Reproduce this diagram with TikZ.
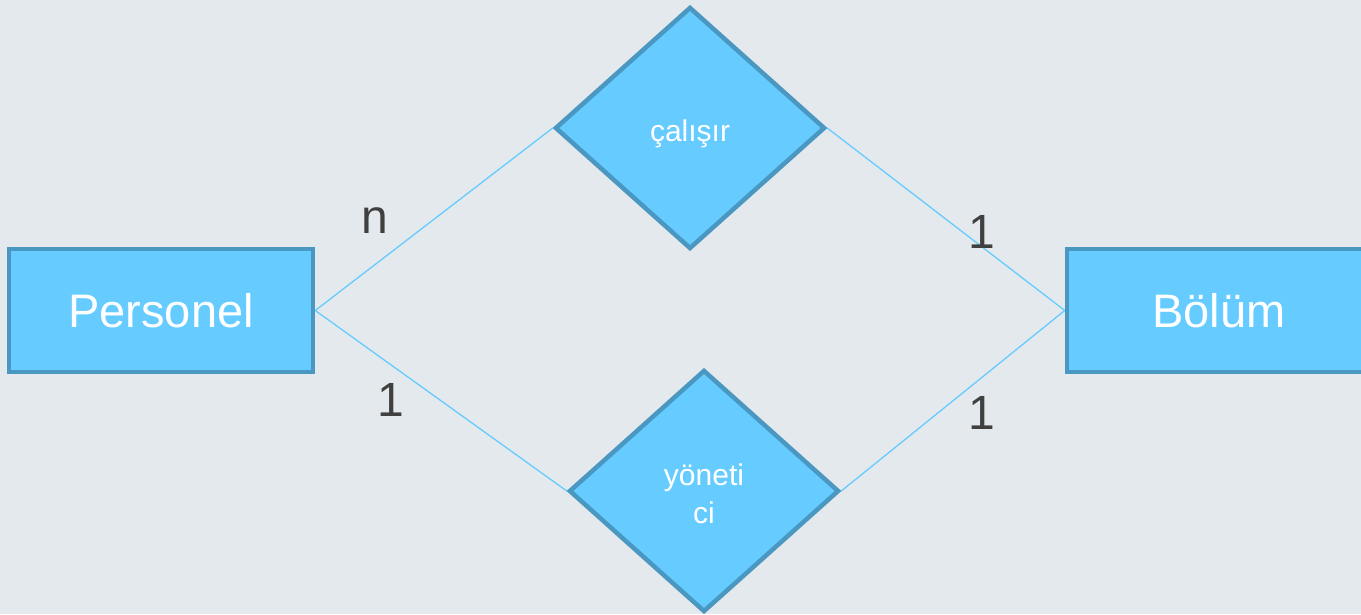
\documentclass[tikz,border=0pt]{standalone}
\usepackage{fontspec}
\setmainfont{Liberation Sans}
\usetikzlibrary{shapes.geometric}
\definecolor{bg}{HTML}{E3E9EC}
\definecolor{fillb}{HTML}{66CCFF}
\definecolor{edgeb}{HTML}{4A98C2}
\definecolor{linkb}{HTML}{66CCFF}
\definecolor{lbl}{HTML}{404040}
\tikzset{
  entity/.style={draw=edgeb, fill=fillb, line width=4.5pt, minimum width=304pt, minimum height=123pt, inner sep=0pt, text=white, font=\fontsize{47}{56}\selectfont},
  relation/.style={diamond, draw=edgeb, fill=fillb, line width=4.5pt, minimum width=270pt, minimum height=242pt, inner sep=0pt},
  reltext/.style={text=white, align=center, inner sep=0pt, font=\fontsize{30}{38}\selectfont},
  link/.style={draw=linkb, line width=1.3pt},
  card/.style={text=lbl, font=\fontsize{48}{56}\selectfont, inner sep=0pt}
}
\begin{document}
\begin{tikzpicture}[x=1pt,y=1pt]
\fill[bg] (0,0) rectangle (1361,614);
\useasboundingbox (0,0) rectangle (1361,614);
\clip (0,0) rectangle (1361,614);
\node[entity] (p) at (161,303.5) {Personel};
\node[entity] (b) at (1219,303.5) {Bölüm};
\node[relation] (c) at (690,486) {};
\node[relation] (y) at (704,123) {};
\node[reltext] (ct) at ([yshift=-6pt]c.center) {çalışır};
\node[reltext] (yt) at ([yshift=-3pt]y.center) {yöneti\\ci};
\draw[link] (p.east) -- (c.west);
\draw[link] (p.east) -- (y.west);
\draw[link] (c.east) -- (b.west);
\draw[link] (y.east) -- (b.west);
\node[card] (l1) at (375,393) {n};
\node[card] (l2) at (391,214) {1};
\node[card] (l3) at (982,382) {1};
\node[card] (l4) at (982,201) {1};
\end{tikzpicture}
\end{document}
